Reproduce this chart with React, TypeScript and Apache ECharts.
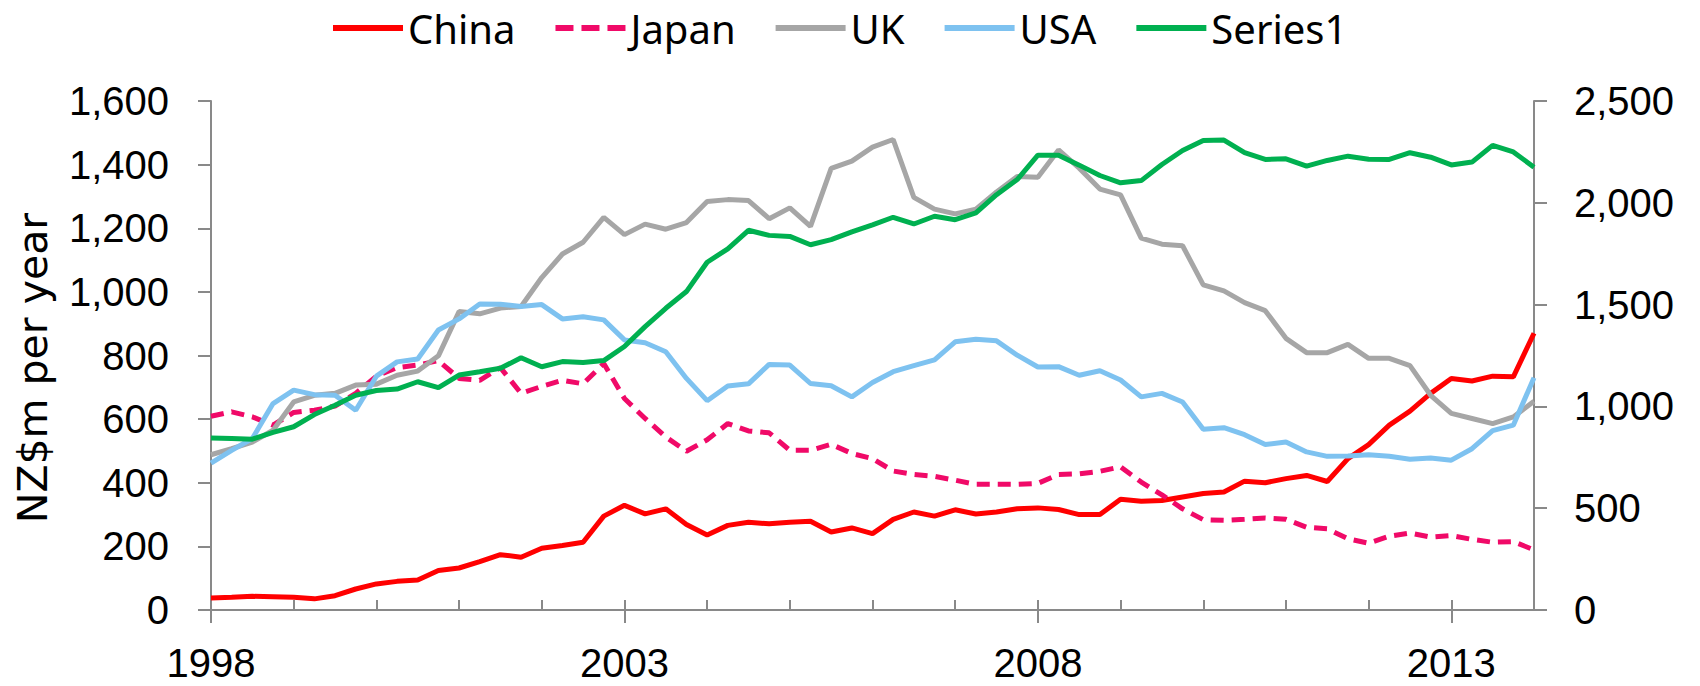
import React, { useEffect, useRef } from "react";
import * as echarts from "echarts";

const years = [1998, 1999, 2000, 2001, 2002, 2003, 2004, 2005, 2006, 2007, 2008, 2009, 2010, 2011, 2012, 2013, 2014];
const categories: string[] = [];
years.forEach((y) => {
  ["Q1", "Q2", "Q3", "Q4"].forEach((q) => {
    if (y < 2014 || q === "Q1") categories.push(y + " " + q);
  });
});

const china = [38, 40, 43, 42, 40, 35, 45, 66, 82, 90, 94, 124, 132, 152, 174, 166, 194, 203, 213, 295, 329, 302, 318, 269, 236, 266, 276, 271, 276, 279, 245, 258, 240, 285, 308, 295, 315, 302, 308, 318, 321, 316, 300, 300, 348, 342, 344, 355, 366, 371, 405, 400, 413, 423, 404, 476, 520, 581, 625, 681, 728, 720, 735, 733, 870];
const japan = [609, 623, 607, 581, 621, 628, 641, 681, 735, 762, 770, 784, 728, 722, 762, 681, 703, 722, 711, 775, 665, 602, 544, 499, 535, 586, 563, 557, 502, 502, 521, 492, 476, 437, 426, 420, 408, 395, 395, 395, 398, 426, 428, 436, 450, 402, 362, 318, 284, 282, 285, 289, 285, 260, 255, 224, 210, 232, 242, 229, 234, 222, 213, 215, 189];
const uk = [488, 507, 528, 565, 654, 675, 681, 707, 710, 738, 751, 799, 938, 931, 949, 954, 1045, 1119, 1156, 1234, 1180, 1213, 1197, 1218, 1284, 1290, 1287, 1230, 1264, 1206, 1388, 1411, 1455, 1479, 1297, 1260, 1245, 1260, 1314, 1363, 1360, 1446, 1389, 1323, 1305, 1169, 1150, 1145, 1022, 1003, 966, 941, 854, 809, 809, 835, 791, 791, 768, 675, 618, 602, 586, 607, 656];
const usa = [462, 502, 539, 649, 691, 677, 675, 628, 735, 780, 789, 880, 915, 962, 961, 954, 960, 915, 922, 912, 849, 840, 812, 728, 658, 704, 711, 772, 770, 712, 705, 670, 715, 749, 768, 786, 843, 851, 846, 801, 764, 765, 738, 752, 723, 670, 681, 654, 568, 573, 551, 520, 528, 497, 483, 484, 488, 483, 474, 478, 471, 507, 564, 581, 730];
const series1 = [845, 842, 839, 872, 900, 960, 1006, 1055, 1078, 1085, 1121, 1092, 1154, 1170, 1187, 1239, 1195, 1220, 1216, 1225, 1294, 1392, 1482, 1564, 1708, 1774, 1865, 1840, 1835, 1794, 1819, 1857, 1892, 1929, 1896, 1934, 1917, 1950, 2040, 2114, 2234, 2234, 2185, 2134, 2098, 2109, 2188, 2257, 2306, 2308, 2246, 2213, 2216, 2180, 2208, 2229, 2214, 2213, 2246, 2224, 2186, 2200, 2282, 2250, 2175];

const leftTicks = { min: 0, max: 1600, interval: 200 };
const rightTicks = { min: 0, max: 2500, interval: 500 };
const yTitle = "NZ$m per year";

const AXIS = "#898989";
const LABEL_FONT = "'Noto Sans', sans-serif";
const TICK_FONT = "'Liberation Sans', sans-serif";
const fmt = (v: number) => v.toLocaleString("en-US");

const SOLID_ICON = "path://M0,0h70v6h-70z";
const DASH_ICON = "path://M0,0h18v6h-18zM26,0h18v6h-18zM52,0h18v6h-18z";

export default function App() {
  const ref = useRef<HTMLDivElement>(null);
  useEffect(() => {
    document.body.style.margin = "0";
    const chart = echarts.init(ref.current!, null, { renderer: "svg" });
    const lw = 5;
    chart.setOption({
      animation: false,
      backgroundColor: "#ffffff",
      grid: { left: 211, right: 166, top: 101, bottom: 76, containLabel: false },
      legend: {
        top: 8,
        left: 333,
        padding: 0,
        itemWidth: 70,
        itemHeight: 6,
        itemGap: 40,
        symbolKeepAspect: false,
        textStyle: { fontFamily: LABEL_FONT, fontSize: 40, color: "#000" },
        data: [
          { name: "China", icon: SOLID_ICON },
          { name: "Japan", icon: DASH_ICON },
          { name: "UK", icon: SOLID_ICON },
          { name: "USA", icon: SOLID_ICON },
          { name: "Series1", icon: SOLID_ICON },
        ],
      },
      xAxis: [
        {
          type: "category",
          data: categories,
          boundaryGap: false,
          position: "bottom",
          axisLine: { lineStyle: { color: AXIS, width: 2 } },
          axisTick: { show: true, inside: true, length: 10, interval: 3, lineStyle: { color: AXIS, width: 2 } },
          axisLabel: {
            interval: 19,
            margin: 38,
            lineHeight: 30,
            fontFamily: TICK_FONT,
            fontSize: 40,
            color: "#000",
            formatter: (v: string) => v.slice(0, 4),
          },
          splitLine: { show: false },
        },
        {
          type: "category",
          data: categories,
          boundaryGap: false,
          position: "bottom",
          axisLine: { show: false },
          axisTick: { show: true, inside: false, length: 13, interval: 19, lineStyle: { color: AXIS, width: 2 } },
          axisLabel: { show: false },
          splitLine: { show: false },
        },
      ],
      yAxis: [
        {
          type: "value",
          position: "left",
          ...leftTicks,
          axisLine: { show: true, lineStyle: { color: AXIS, width: 2 } },
          axisTick: { show: true, length: 13, lineStyle: { color: AXIS, width: 2 } },
          axisLabel: { margin: 42, fontFamily: TICK_FONT, fontSize: 40, color: "#000", formatter: fmt },
          splitLine: { show: false },
        },
        {
          type: "value",
          position: "right",
          ...rightTicks,
          axisLine: { show: true, lineStyle: { color: AXIS, width: 2 } },
          axisTick: { show: true, length: 13, lineStyle: { color: AXIS, width: 2 } },
          axisLabel: { margin: 40, fontFamily: TICK_FONT, fontSize: 40, color: "#000", formatter: fmt },
          splitLine: { show: false },
        },
      ],
      graphic: [
        {
          type: "text",
          x: 33,
          y: 368,
          rotation: Math.PI / 2,
          style: {
            text: yTitle,
            fontFamily: "'DejaVu Sans', sans-serif",
            fontSize: 41,
            fill: "#000",
            textAlign: "center",
            textVerticalAlign: "middle",
          },
        },
      ],
      series: [
        { name: "China", type: "line", data: china, symbol: "none", xAxisIndex: 0, yAxisIndex: 0, color: "#FF0000", lineStyle: { color: "#FF0000", width: lw } },
        { name: "Japan", type: "line", data: japan, symbol: "none", xAxisIndex: 0, yAxisIndex: 0, color: "#F00A68", lineStyle: { color: "#F00A68", width: lw, type: [13, 8], cap: "butt" } },
        { name: "UK", type: "line", data: uk, symbol: "none", xAxisIndex: 0, yAxisIndex: 0, color: "#A6A6A6", lineStyle: { color: "#A6A6A6", width: lw } },
        { name: "USA", type: "line", data: usa, symbol: "none", xAxisIndex: 0, yAxisIndex: 0, color: "#7EC2F0", lineStyle: { color: "#7EC2F0", width: lw } },
        { name: "Series1", type: "line", data: series1, symbol: "none", xAxisIndex: 0, yAxisIndex: 1, color: "#00B050", lineStyle: { color: "#00B050", width: lw } },
      ],
    });
    return () => chart.dispose();
  }, []);
  return <div ref={ref} style={{ width: 1700, height: 686 }} />;
}
